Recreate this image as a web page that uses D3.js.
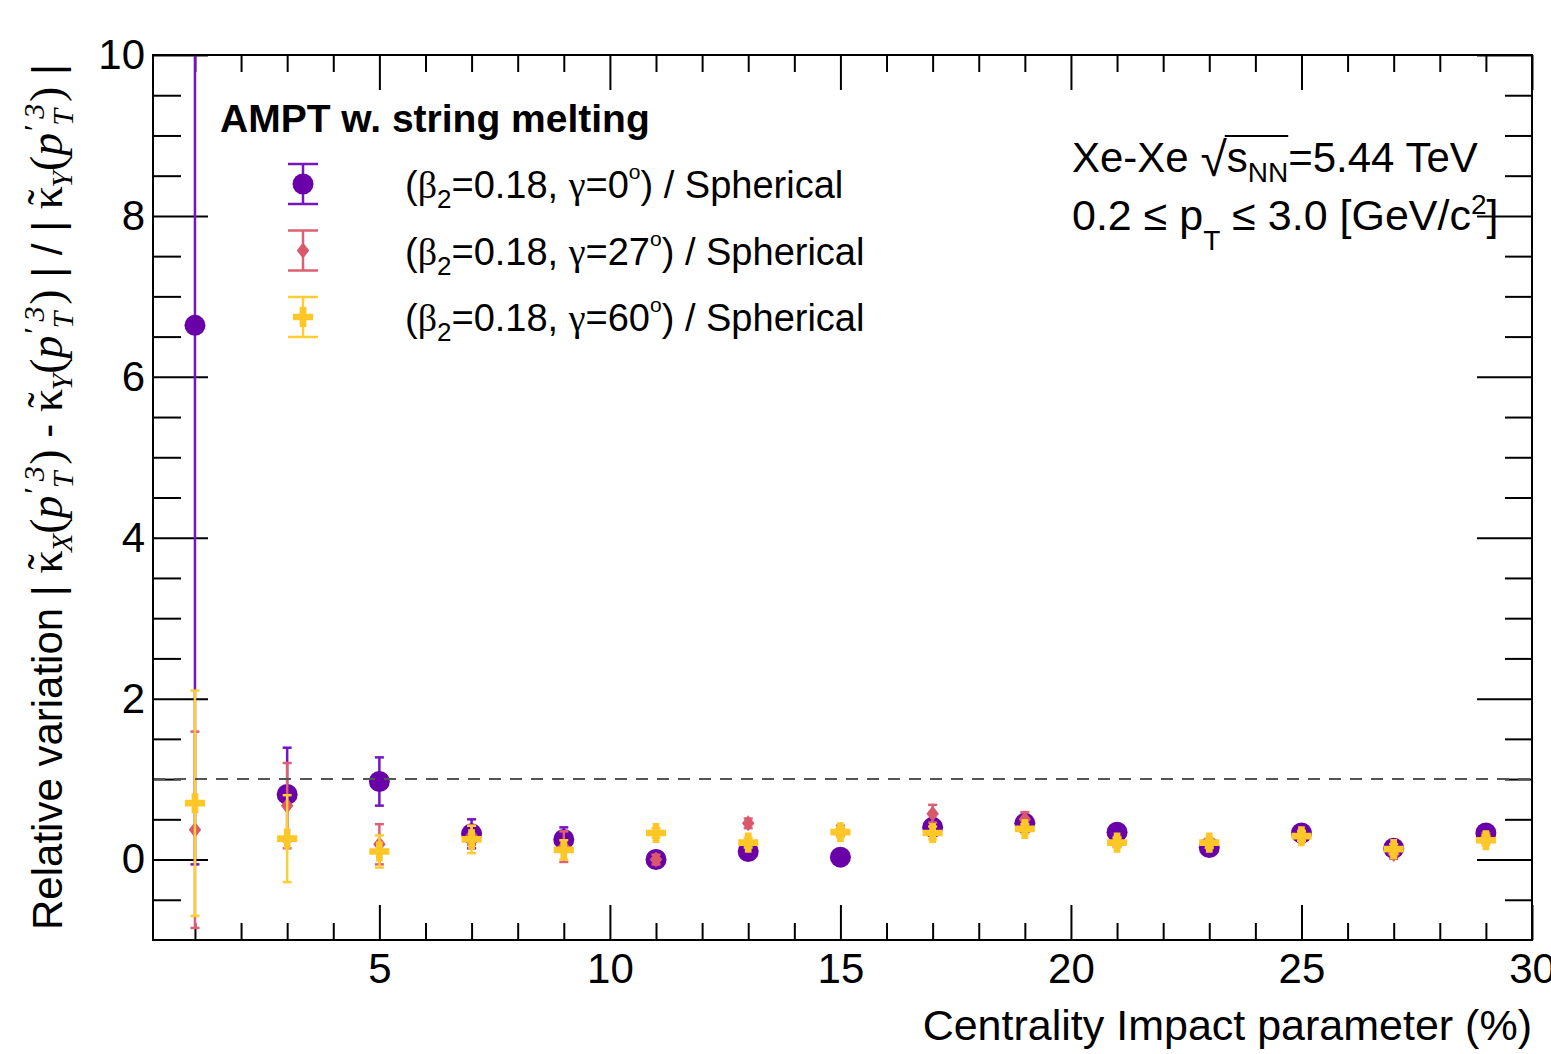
<!DOCTYPE html>
<html lang="en">
<head>
<meta charset="utf-8">
<title>Relative variation vs centrality</title>
<style>
  body { margin: 0; background: #fff; }
  text { font-family: "Liberation Sans", Arial, sans-serif; fill: #000; }
</style>
</head>
<body>
<svg width="1551" height="1054"></svg>
<script src="https://d3js.org/d3.v7.min.js"></script>
<script>
// centrality bins (bin centres, %)
var centrality = [1, 3, 5, 7, 9, 11, 13, 15, 17, 19, 21, 23, 25, 27, 29];

// (beta2=0.18, gamma=0) / spherical
var gamma0    = [6.64, 0.81, 0.97, 0.32, 0.25, 0.00, 0.10, 0.03, 0.40, 0.45, 0.34, 0.15, 0.33, 0.14, 0.33];
var gamma0Err = [6.70, 0.58, 0.30, 0.18, 0.15, 0.10, 0.09, 0.08, 0.10, 0.10, 0.08, 0.07, 0.07, 0.06, 0.07];
// (beta2=0.18, gamma=27) / spherical
var gamma27    = [0.37, 0.67, 0.19, 0.30, 0.16, 0.00, 0.45, 0.36, 0.57, 0.50, 0.22, 0.20, 0.30, 0.07, 0.27];
var gamma27Err = [1.22, 0.53, 0.25, 0.12, 0.19, 0.06, 0.06, 0.06, 0.11, 0.09, 0.06, 0.06, 0.06, 0.06, 0.06];
// (beta2=0.18, gamma=60) / spherical
var gamma60    = [0.70, 0.26, 0.10, 0.25, 0.12, 0.33, 0.21, 0.34, 0.33, 0.38, 0.21, 0.21, 0.29, 0.13, 0.24];
var gamma60Err = [1.40, 0.54, 0.20, 0.17, 0.12, 0.06, 0.06, 0.06, 0.08, 0.06, 0.06, 0.06, 0.06, 0.06, 0.06];

var gammaLabels = ["0", "27", "60"];
var xMajorTicks = [5, 10, 15, 20, 25, 30];
var yMajorTicks = [0, 2, 4, 6, 8, 10];
var refLevel = 1;

var svg = d3.select("svg"),
    margin = {top: 55, right: 19, bottom: 114, left: 153},
    width = 1551 - margin.left - margin.right,
    height = 1054 - margin.top - margin.bottom,
    g = svg.append("g").attr("transform", "translate(" + margin.left + "," + margin.top + ")");

var x = d3.scaleLinear().domain([0.09, 30]).range([0, width]);
var y = d3.scaleLinear().domain([-1, 10]).range([height, 0]);

var xMinorTicks = d3.range(1, 30).filter(function(v) { return v % 5 !== 0; });
var yMinorTicks = d3.range(-0.5, 10, 0.5).filter(function(v) { return v % 2 !== 0; });

var serif = '"Liberation Serif", "DejaVu Serif", serif';

// a diamond a bit wider than d3.symbolDiamond
var diamond = {
  draw: function(ctx, size) {
    var h = Math.sqrt(size) / 2, w = h * 0.78;
    ctx.moveTo(0, -h); ctx.lineTo(w, 0); ctx.lineTo(0, h); ctx.lineTo(-w, 0); ctx.closePath();
  }
};

var series = [
  {values: gamma0, errors: gamma0Err, fill: "#6a00a8", line: "#7414c2", symbol: d3.symbolCircle, size: Math.PI * 10.5 * 10.5},
  {values: gamma27, errors: gamma27Err, fill: "#d9586c", line: "#dc6172", symbol: diamond, size: 256},
  {values: gamma60, errors: gamma60Err, fill: "#fdc728", line: "#fdce34", symbol: d3.symbolCross, size: 225}
];

// clip to the frame
svg.append("defs").append("clipPath").attr("id", "plot")
  .append("rect").attr("width", width).attr("height", height);

// ---- axes, ROOT style: ticks inside, on all four sides
function drawAxis(gen, translate, values, size, labels, padding) {
  var a = g.append("g")
      .attr("transform", translate)
      .call(gen.tickValues(values).tickSize(size).tickPadding(padding || 3)
        .tickFormat(labels ? d3.format("d") : ""));
  a.select(".domain").remove();
  a.attr("font-family", null).attr("font-size", 42);
  a.selectAll("line").attr("stroke", "#000").attr("stroke-width", 2);
  return a;
}

drawAxis(d3.axisBottom(x), "translate(0," + height + ")", xMinorTicks, -17, false);
drawAxis(d3.axisBottom(x), "translate(0," + height + ")", xMajorTicks, -35, true, 13);
drawAxis(d3.axisTop(x), null, xMinorTicks, -17, false);
drawAxis(d3.axisTop(x), null, xMajorTicks, -35, false);
drawAxis(d3.axisLeft(y), null, yMinorTicks, -28, false);
drawAxis(d3.axisLeft(y), null, yMajorTicks, -55, true, 8);
drawAxis(d3.axisRight(y), "translate(" + width + ",0)", yMinorTicks, -27, false);
drawAxis(d3.axisRight(y), "translate(" + width + ",0)", yMajorTicks, -55, false);

// ---- data
var plot = g.append("g").attr("clip-path", "url(#plot)");

series.forEach(function(s) {
  var pts = centrality.map(function(c, i) { return {x: c, v: s.values[i], e: s.errors[i]}; });
  var sg = plot.append("g");

  var eb = sg.selectAll(".err").data(pts).enter().append("g")
      .attr("stroke", s.line).attr("stroke-width", 2.5);
  eb.append("line")
      .attr("x1", function(d) { return x(d.x); }).attr("x2", function(d) { return x(d.x); })
      .attr("y1", function(d) { return y(d.v - d.e); }).attr("y2", function(d) { return y(d.v + d.e); });
  eb.append("line")
      .attr("x1", function(d) { return x(d.x) - 4.5; }).attr("x2", function(d) { return x(d.x) + 4.5; })
      .attr("y1", function(d) { return y(d.v - d.e); }).attr("y2", function(d) { return y(d.v - d.e); });
  eb.append("line")
      .attr("x1", function(d) { return x(d.x) - 4.5; }).attr("x2", function(d) { return x(d.x) + 4.5; })
      .attr("y1", function(d) { return y(d.v + d.e); }).attr("y2", function(d) { return y(d.v + d.e); });

  sg.selectAll(".mk").data(pts).enter().append("path")
      .attr("transform", function(d) { return "translate(" + x(d.x) + "," + y(d.v) + ")"; })
      .attr("d", d3.symbol(s.symbol, s.size))
      .attr("fill", s.fill);
});

// reference line at 1
g.append("line")
    .attr("x1", 0).attr("x2", width)
    .attr("y1", y(refLevel)).attr("y2", y(refLevel))
    .attr("stroke", "#555").attr("stroke-width", 2)
    .attr("stroke-dasharray", "12,9");

// frame
g.append("rect")
    .attr("width", width).attr("height", height)
    .attr("fill", "none").attr("stroke", "#000").attr("stroke-width", 2);

// ---- text helper: parts with baseline shifts
function richText(sel, parts) {
  var cur = 0;
  parts.forEach(function(p) {
    var shift = p.shift || 0;
    var t = sel.append("tspan").text(p.t).attr("dy", shift - cur);
    if (p.dx) t.attr("dx", p.dx);
    if (p.fs) t.style("font-size", p.fs + "px");
    if (p.serif) t.style("font-family", serif);
    if (p.it) t.style("font-style", "italic");
    cur = shift;
  });
  return sel;
}

// ---- legend
svg.append("text")
    .attr("x", 220).attr("y", 132)
    .style("font-size", "39px").style("font-weight", "bold")
    .text("AMPT w. string melting");

var legend = svg.append("g");
series.forEach(function(s, i) {
  var cy = 184 + i * 66.5, cx = 303;
  var lg = legend.append("g").attr("stroke", s.line).attr("stroke-width", 2.5);
  lg.append("line").attr("x1", cx).attr("x2", cx).attr("y1", cy - 20).attr("y2", cy + 20);
  lg.append("line").attr("x1", cx - 15).attr("x2", cx + 15).attr("y1", cy - 20).attr("y2", cy - 20);
  lg.append("line").attr("x1", cx - 15).attr("x2", cx + 15).attr("y1", cy + 20).attr("y2", cy + 20);
  legend.append("path")
      .attr("transform", "translate(" + cx + "," + cy + ")")
      .attr("d", d3.symbol(s.symbol, s.size))
      .attr("fill", s.fill);
  richText(legend.append("text").attr("x", 405).attr("y", cy + 14).style("font-size", "38px"), [
    {t: "("},
    {t: "\u03b2", serif: true},
    {t: "2", fs: 26, shift: 10},
    {t: "=0.18, "},
    {t: "\u03b3", serif: true},
    {t: "=" + gammaLabels[i]},
    {t: "o", fs: 21, shift: -19},
    {t: ") / Spherical"}
  ]);
});

// ---- system label
var sys = svg.append("text").attr("x", 1072).attr("y", 172).style("font-size", "42px");
richText(sys, [
  {t: "Xe-Xe "},
  {t: "\u221a", fs: 48, shift: 4},
  {t: "s", shift: 0},
  {t: "NN", fs: 28, shift: 10},
  {t: "=5.44 TeV"}
]);
var node = sys.node();
var x0 = node.getEndPositionOfChar(6).x - 2, x1 = node.getEndPositionOfChar(9).x;
svg.append("line")
    .attr("x1", x0).attr("x2", x1).attr("y1", 136).attr("y2", 136)
    .attr("stroke", "#000").attr("stroke-width", 2);

richText(svg.append("text").attr("x", 1072).attr("y", 230).style("font-size", "43px"), [
  {t: "0.2 \u2264 p"},
  {t: "T", fs: 28, shift: 20},
  {t: " \u2264 3.0 [GeV/c"},
  {t: "2", fs: 28, shift: -16},
  {t: "]"}
]);

// ---- axis titles
svg.append("text")
    .attr("x", margin.left + width).attr("y", 1040)
    .attr("text-anchor", "end")
    .style("font-size", "43px")
    .text("Centrality Impact parameter (%)");

function kappa(sub) {
  return [
    {t: "\u03ba", serif: true, fs: 46},
    {t: "\u02dc", serif: true, fs: 46, dx: -19, shift: -3},
    {t: sub, serif: true, it: true, fs: 30, shift: 10, dx: 2},
    {t: "(", serif: true, fs: 46},
    {t: "p", serif: true, it: true, fs: 46},
    {t: "\u2032 3", serif: true, it: true, fs: 30, shift: -18},
    {t: "T", serif: true, it: true, fs: 30, shift: 11, dx: -22},
    {t: ")", serif: true, fs: 46, dx: 7}
  ];
}
var yTitle = [{t: "Relative variation "}, {t: "| "}]
  .concat(kappa("X"), [{t: " - "}], kappa("Y"), [{t: " | / | "}], kappa("Y"), [{t: " |"}]);
richText(svg.append("text")
    .attr("transform", "translate(62,930) rotate(-90)")
    .style("font-size", "42px"), yTitle);
</script>
</body>
</html>
